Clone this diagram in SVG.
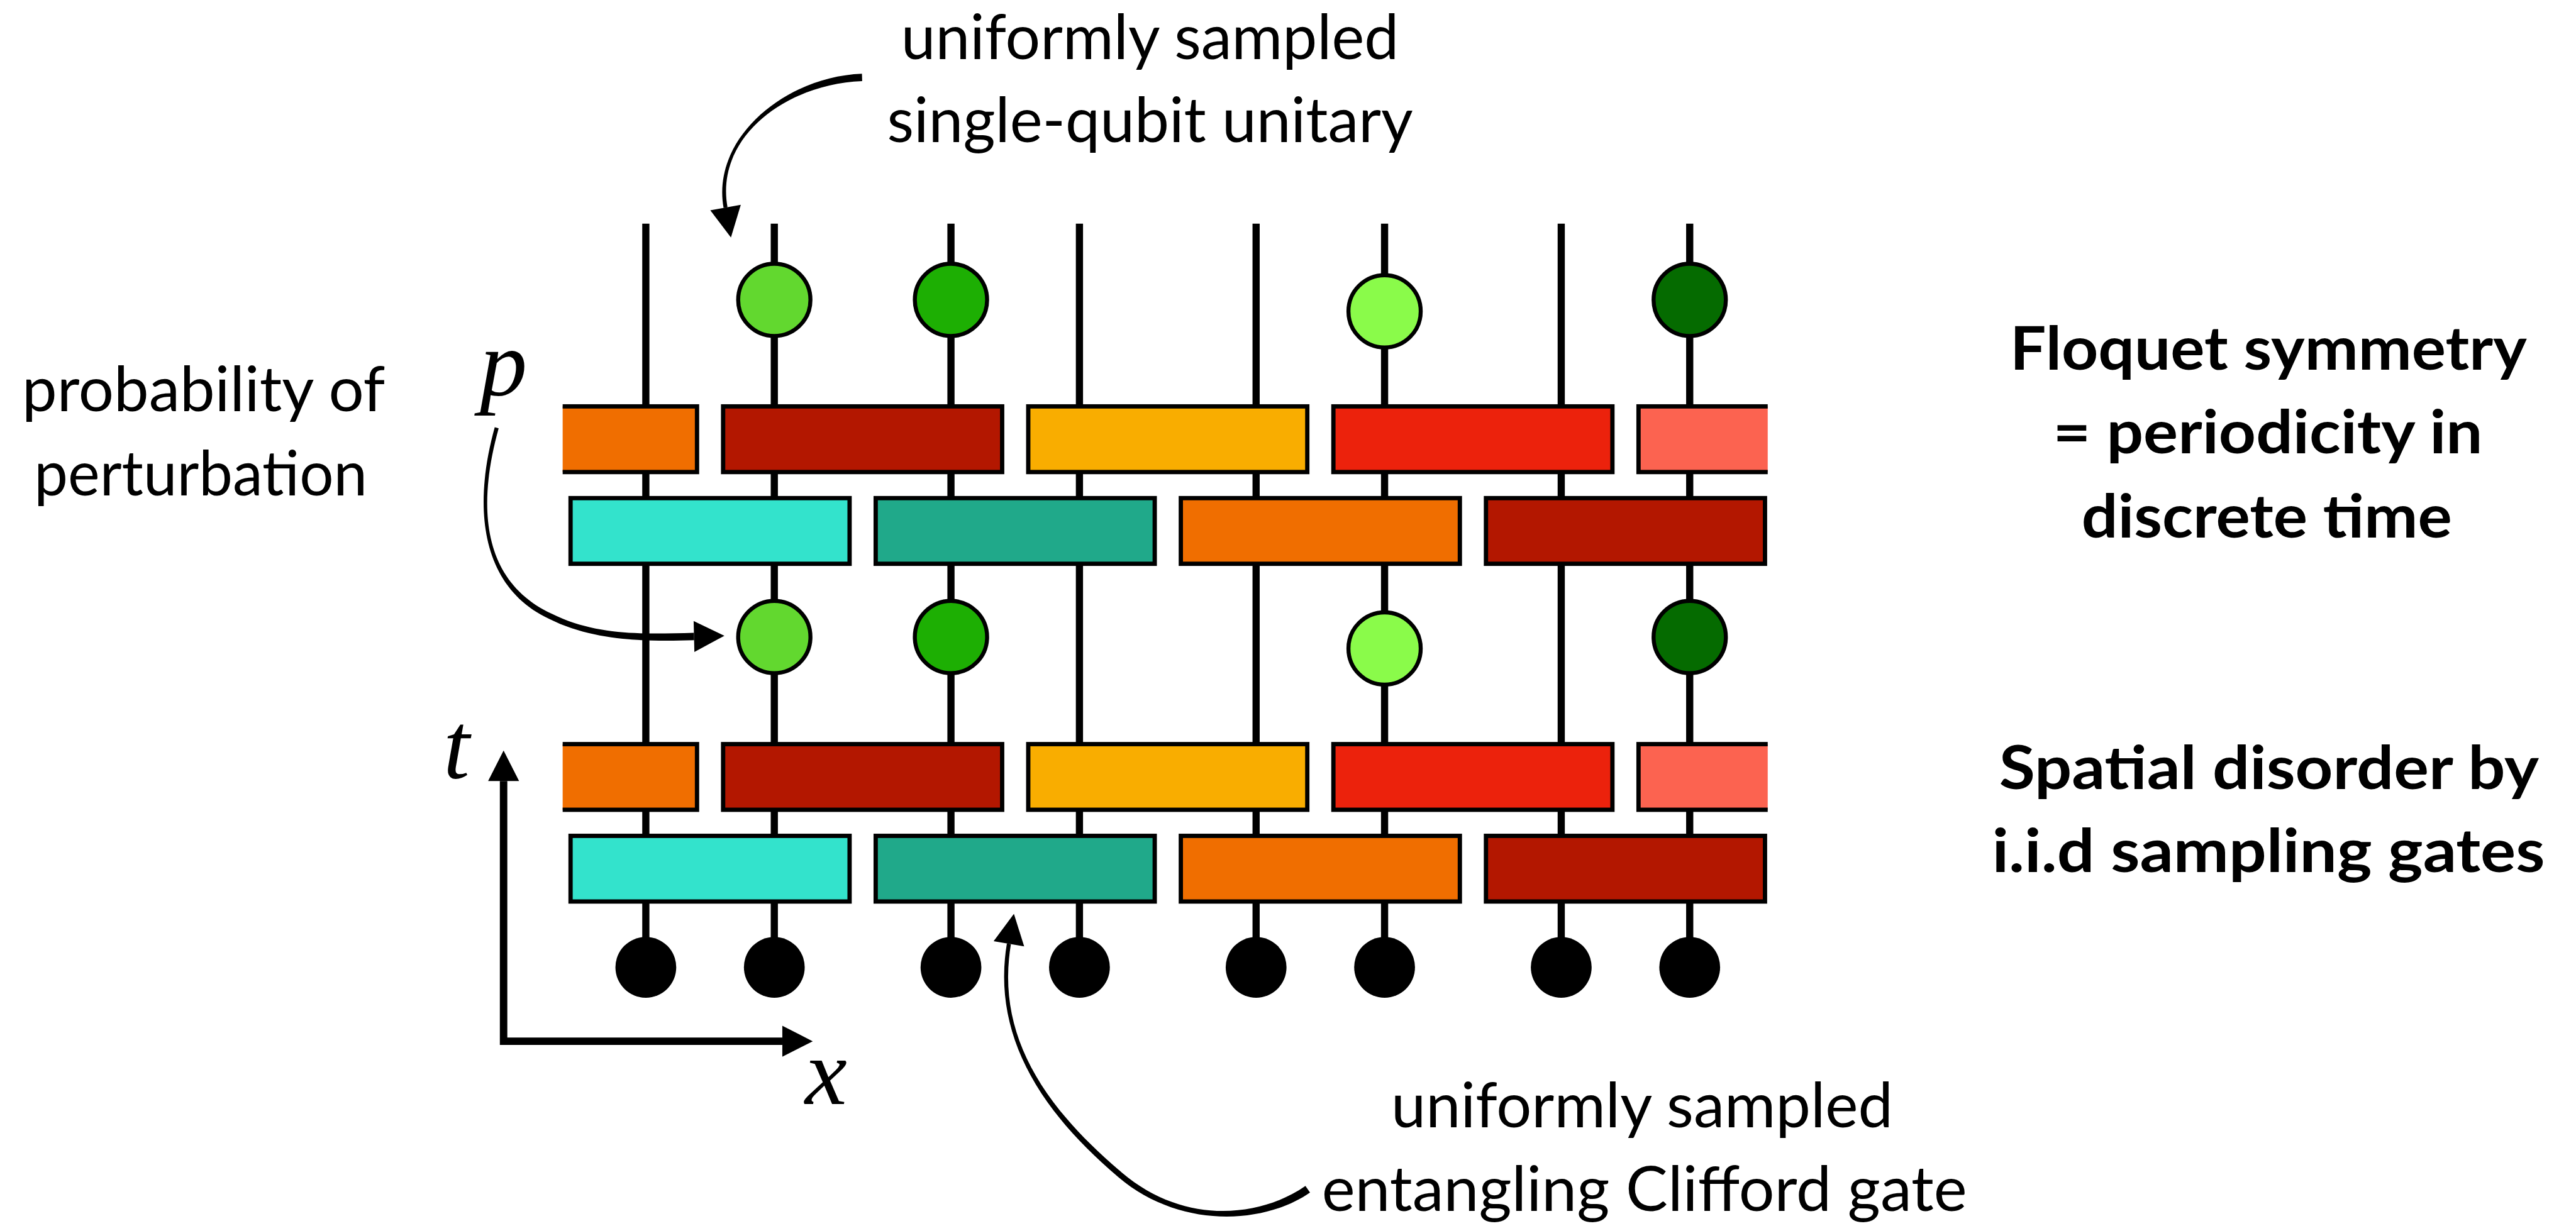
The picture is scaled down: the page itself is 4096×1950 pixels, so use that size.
<svg xmlns="http://www.w3.org/2000/svg" width="4096" height="1950" viewBox="0 0 4096 1950">
  <style>
    .wire { stroke: #000; stroke-width: 12.5; fill: none; }
    .gate { stroke: #000; stroke-width: 7.5; }
    .u1 { stroke: #000; stroke-width: 7; }
    .dot { fill: #000; }
    .axis { stroke: #000; stroke-width: 13; fill: none; stroke-linejoin: miter; }
    .ann { fill: #000; stroke: none; }
    .note { font-family: Lato, "Open Sans", "Liberation Sans", sans-serif; font-size: 108px; fill: #000; text-anchor: middle; }
    .claim { font-family: Lato, "Open Sans", "Liberation Sans", sans-serif; font-weight: 700; font-size: 106px; fill: #000; text-anchor: middle; }
    .sym { font-family: "Liberation Serif", "DejaVu Serif", serif; font-style: italic; font-size: 165px; fill: #000; text-anchor: middle; }
    .c-orange { fill: #F06E00; }
    .c-maroon { fill: #B31700; }
    .c-amber { fill: #F9AD00; }
    .c-red { fill: #EC220C; }
    .c-salmon { fill: #FC6350; }
    .c-cyan { fill: #33E3CC; }
    .c-teal { fill: #20A98A; }
    .g-light { fill: #62D82F; }
    .g-mid { fill: #1DAF03; }
    .g-lime { fill: #8AFB4A; }
    .g-dark { fill: #056B00; }
  </style>
  <defs>
    <!-- arrowhead pointing along +x, base centred on the origin -->
    <path id="tip" d="M0,-27 L53,0 L0,27 Z"/>
    <!-- circuit is cut off at both sides -->
    <clipPath id="edge">
      <rect x="981" y="0" width="2101" height="2138"/>
    </clipPath>
  </defs>

  <rect width="4096" height="1950" fill="#fff"/>

  <g transform="scale(0.912)">
    <!-- qubit world lines -->
    <g id="wires">
      <line class="wire" x1="1126" y1="390" x2="1126" y2="1687"/>
      <line class="wire" x1="1350" y1="390" x2="1350" y2="1687"/>
      <line class="wire" x1="1658" y1="390" x2="1658" y2="1687"/>
      <line class="wire" x1="1882" y1="390" x2="1882" y2="1687"/>
      <line class="wire" x1="2190" y1="390" x2="2190" y2="1687"/>
      <line class="wire" x1="2414" y1="390" x2="2414" y2="1687"/>
      <line class="wire" x1="2722" y1="390" x2="2722" y2="1687"/>
      <line class="wire" x1="2946" y1="390" x2="2946" y2="1687"/>
    </g>

    <!-- first period: odd bond layer -->
    <g id="gate-a1-0" clip-path="url(#edge)"><rect class="gate c-orange" x="728.75" y="708.75" width="486.5" height="114.5"/></g>
    <g id="gate-a1-1"><rect class="gate c-maroon" x="1260.75" y="708.75" width="486.5" height="114.5"/></g>
    <g id="gate-a1-2"><rect class="gate c-amber" x="1792.75" y="708.75" width="486.5" height="114.5"/></g>
    <g id="gate-a1-3"><rect class="gate c-red" x="2324.75" y="708.75" width="486.5" height="114.5"/></g>
    <g id="gate-a1-4" clip-path="url(#edge)"><rect class="gate c-salmon" x="2856.75" y="708.75" width="486.5" height="114.5"/></g>
    <!-- first period: even bond layer -->
    <g id="gate-b1-0"><rect class="gate c-cyan" x="994.75" y="868.75" width="486.5" height="114.5"/></g>
    <g id="gate-b1-1"><rect class="gate c-teal" x="1526.75" y="868.75" width="486.5" height="114.5"/></g>
    <g id="gate-b1-2"><rect class="gate c-orange" x="2058.75" y="868.75" width="486.5" height="114.5"/></g>
    <g id="gate-b1-3"><rect class="gate c-maroon" x="2590.75" y="868.75" width="486.5" height="114.5"/></g>

    <!-- second period: odd bond layer -->
    <g id="gate-a2-0" clip-path="url(#edge)"><rect class="gate c-orange" x="728.75" y="1297.75" width="486.5" height="114.5"/></g>
    <g id="gate-a2-1"><rect class="gate c-maroon" x="1260.75" y="1297.75" width="486.5" height="114.5"/></g>
    <g id="gate-a2-2"><rect class="gate c-amber" x="1792.75" y="1297.75" width="486.5" height="114.5"/></g>
    <g id="gate-a2-3"><rect class="gate c-red" x="2324.75" y="1297.75" width="486.5" height="114.5"/></g>
    <g id="gate-a2-4" clip-path="url(#edge)"><rect class="gate c-salmon" x="2856.75" y="1297.75" width="486.5" height="114.5"/></g>
    <!-- second period: even bond layer -->
    <g id="gate-b2-0"><rect class="gate c-cyan" x="994.75" y="1457.75" width="486.5" height="114.5"/></g>
    <g id="gate-b2-1"><rect class="gate c-teal" x="1526.75" y="1457.75" width="486.5" height="114.5"/></g>
    <g id="gate-b2-2"><rect class="gate c-orange" x="2058.75" y="1457.75" width="486.5" height="114.5"/></g>
    <g id="gate-b2-3"><rect class="gate c-maroon" x="2590.75" y="1457.75" width="486.5" height="114.5"/></g>

    <!-- single-qubit perturbations -->
    <g id="u-top-1"><circle class="u1 g-light" cx="1350" cy="523" r="63"/></g>
    <g id="u-top-2"><circle class="u1 g-mid" cx="1658" cy="523" r="63"/></g>
    <g id="u-top-3"><circle class="u1 g-lime" cx="2414" cy="543" r="63"/></g>
    <g id="u-top-4"><circle class="u1 g-dark" cx="2946" cy="523" r="63"/></g>
    <g id="u-mid-1"><circle class="u1 g-light" cx="1350" cy="1111" r="63"/></g>
    <g id="u-mid-2"><circle class="u1 g-mid" cx="1658" cy="1111" r="63"/></g>
    <g id="u-mid-3"><circle class="u1 g-lime" cx="2414" cy="1131" r="63"/></g>
    <g id="u-mid-4"><circle class="u1 g-dark" cx="2946" cy="1111" r="63"/></g>

    <!-- initial states -->
    <g id="inputs">
      <circle class="dot" cx="1126" cy="1687" r="53"/>
      <circle class="dot" cx="1350" cy="1687" r="53"/>
      <circle class="dot" cx="1658" cy="1687" r="53"/>
      <circle class="dot" cx="1882" cy="1687" r="53"/>
      <circle class="dot" cx="2190" cy="1687" r="53"/>
      <circle class="dot" cx="2414" cy="1687" r="53"/>
      <circle class="dot" cx="2722" cy="1687" r="53"/>
      <circle class="dot" cx="2946" cy="1687" r="53"/>
    </g>

    <!-- space-time axes -->
    <g id="axes">
      <path class="axis" d="M878,1362 L878,1816 L1364,1816"/>
      <use href="#tip" transform="translate(878,1362) rotate(-90) scale(1,1)"/>
      <use href="#tip" transform="translate(1364,1816)"/>
      <text class="sym" x="796" y="1358">t</text>
      <text class="sym" x="1440" y="1925">x</text>
    </g>

    <!-- annotation arrows: tapered brush strokes -->
    <g id="connectors">
      <path class="ann" d="M1502.8,128.5 C1369.8,133.5 1239.6,240.6 1261.6,362.6 L1268.4,361.4 C1246.4,239.4 1370.2,146.5 1503.2,141.5 Z"/>
      <use href="#tip" transform="translate(1265,362) rotate(79.8)"/>
      <path class="ann" d="M862.6,745.1 C822.6,889.1 839.8,1024.5 957.8,1079.5 C1037.8,1119.5 1130.2,1118.5 1210.2,1116.5 L1209.8,1103.5 C1129.8,1105.5 1042.2,1110.5 962.2,1070.5 C844.2,1015.5 829.4,890.9 869.4,746.9 Z"/>
      <use href="#tip" transform="translate(1210,1110) rotate(-1.4)"/>
      <path class="ann" d="M2276,2068.3 C2196,2124.3 2063.2,2136.2 1956.2,2045.2 C1803.2,1916.2 1738.5,1790.6 1762.5,1646.6 L1755.5,1645.4 C1731.5,1789.4 1796.8,1923.8 1949.8,2052.8 C2056.8,2143.8 2204,2135.7 2284,2079.7 Z"/>
      <use href="#tip" transform="translate(1759,1646) rotate(-80.5)"/>
    </g>

    <!-- labels -->
    <g id="label-unitary">
      <text class="note" x="2005" y="103" textLength="868" lengthAdjust="spacingAndGlyphs">uniformly sampled</text>
      <text class="note" x="2005" y="248" textLength="917" lengthAdjust="spacingAndGlyphs">single-qubit unitary</text>
    </g>
    <g id="label-probability">
      <text class="note" x="355" y="717" textLength="633" lengthAdjust="spacingAndGlyphs">probability of</text>
      <text class="note" x="350" y="864" textLength="581" lengthAdjust="spacingAndGlyphs">perturbation</text>
      <text class="sym" x="878" y="690">p</text>
    </g>
    <g id="label-clifford">
      <text class="note" x="2863" y="1966" textLength="875" lengthAdjust="spacingAndGlyphs">uniformly sampled</text>
      <text class="note" x="2867" y="2112" textLength="1125" lengthAdjust="spacingAndGlyphs">entangling Clifford gate</text>
    </g>
    <g id="label-floquet">
      <text class="claim" x="3955" y="645" textLength="901" lengthAdjust="spacingAndGlyphs">Floquet symmetry</text>
      <text class="claim" x="3954" y="791" textLength="749" lengthAdjust="spacingAndGlyphs">= periodicity in</text>
      <text class="claim" x="3952" y="938" textLength="646" lengthAdjust="spacingAndGlyphs">discrete time</text>
    </g>
    <g id="label-disorder">
      <text class="claim" x="3956" y="1376" textLength="941" lengthAdjust="spacingAndGlyphs">Spatial disorder by</text>
      <text class="claim" x="3955" y="1521" textLength="964" lengthAdjust="spacingAndGlyphs">i.i.d sampling gates</text>
    </g>
  </g>
</svg>
